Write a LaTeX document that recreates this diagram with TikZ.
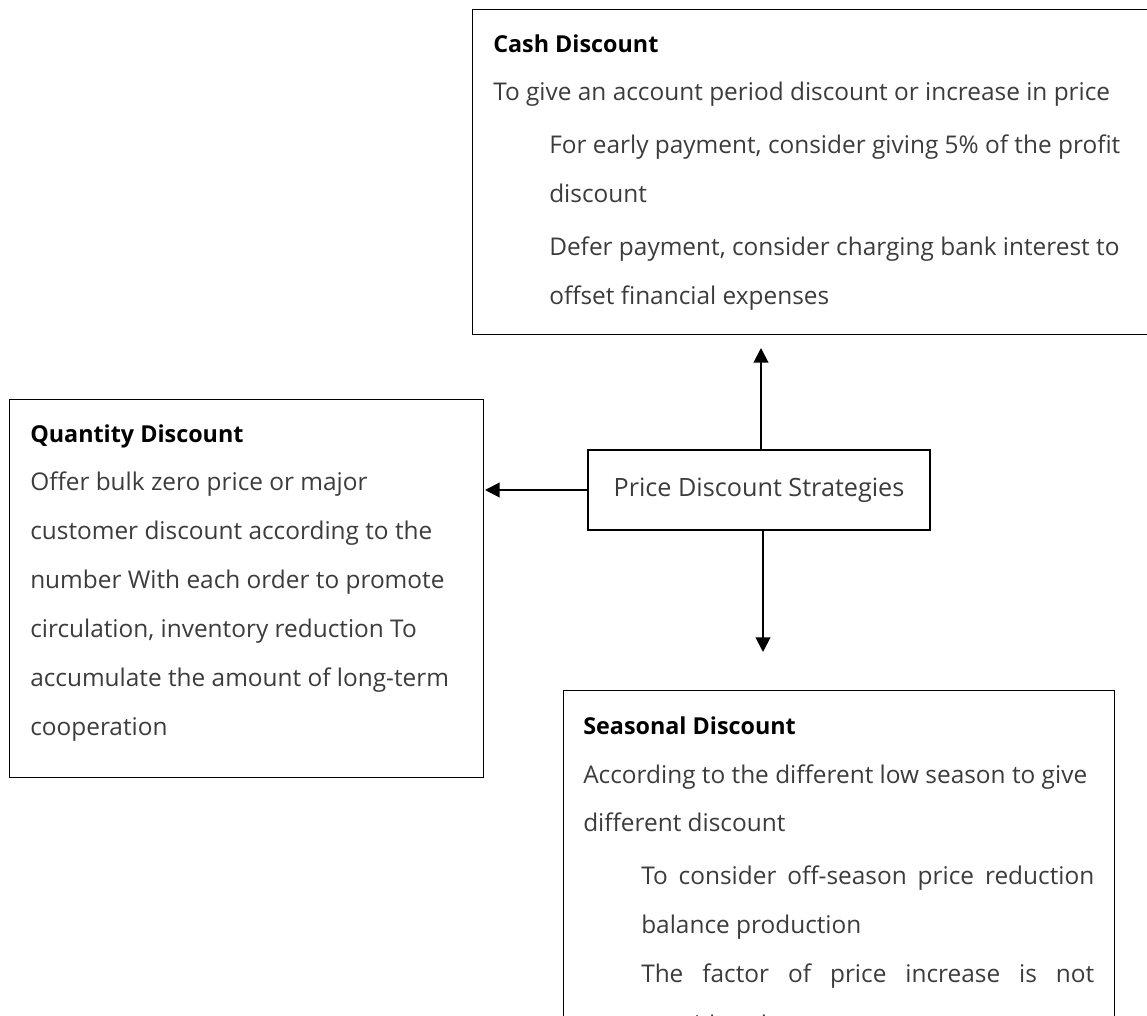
\documentclass[tikz,border=0pt]{standalone}
\usepackage{fontspec}
\setmainfont{Open Sans}
\usetikzlibrary{arrows.meta}

\definecolor{txtgray}{RGB}{60,60,60}

\tikzset{
  dbox/.style={draw, line width=0.75pt, anchor=north west, inner sep=0pt},
  boxtext/.style={anchor=north west, inner sep=0pt, align=left, text=txtgray,
    font=\fontsize{18.3}{36.75}\selectfont},
  arr/.style={line width=1.5pt, -{Triangle[length=11pt,width=11pt]}},
}
\newcommand{\boxhead}[1]{\rule{0pt}{20pt}{\color{black}\bfseries\fontsize{17.5}{36.75}\selectfont #1}}

\begin{document}
\begin{tikzpicture}[x=0.75pt,y=0.75pt,yscale=-1,xscale=1]
        \useasboundingbox (0,0) rectangle (1147,1016);
        \clip (0,0) rectangle (1147,1016);

        % Boxes
        \node [dbox, minimum width=516pt, minimum height=243.75pt] (cash) at (472,9) {};
        \node [dbox, minimum width=355.5pt, minimum height=283.5pt] (quant) at (9,399) {};
        \node [dbox, minimum width=413.25pt, minimum height=315pt] (season) at (563,690) {};
        \node [dbox, line width=1.5pt, minimum width=256.5pt, minimum height=60pt,
               text=txtgray, font=\fontsize{18.9}{20}\selectfont] (price) at (587,449) {Price Discount Strategies};

        % Connectors
        \draw [arr, shorten >=9.75pt] ([xshift=1.5pt]price.north) -- ([xshift=1.5pt]price.north |- cash.south);
        \draw [arr, shorten >=0.75pt] (price.west) -- (price.west -| quant.east);
        \draw [arr, shorten >=28.5pt] ([xshift=3pt]price.south) -- ([xshift=3pt]price.south |- season.north);

        % Text Node
        \node [boxtext] (cashtxt) at (493,25.3) {\boxhead{Cash Discount}\\[-0.75pt]
          To give an account period discount or increase in price\\[3pt]
          \hspace*{42pt}For early payment, consider giving 5\% of the profit\\
          \hspace*{42pt}discount\\[3pt]
          \hspace*{42pt}Defer payment, consider charging bank interest to\\
          \hspace*{42pt}offset financial expenses};
        % Text Node
        \node [boxtext] (quanttxt) at (30,415.3) {\boxhead{Quantity Discount}\\[-0.75pt]
          Offer bulk zero price or major\\
          customer discount according to the\\
          number With each order to promote\\
          circulation, inventory reduction To\\
          accumulate the amount of long-term\\
          cooperation};
        % Text Node
        \node [boxtext] (seasontxt) at (583,707.3) {\boxhead{Seasonal Discount}\\
          According to the different low season to give\\[-0.75pt]
          different discount\\[3pt]
          \hspace*{43.5pt}\makebox[339.75pt][s]{To consider off-season price reduction}\\
          \hspace*{43.5pt}balance production\\
          \hspace*{43.5pt}\makebox[339.75pt][s]{The factor of price increase is not}\\[1.5pt]
          \hspace*{43.5pt}considered};

\end{tikzpicture}
\end{document}
